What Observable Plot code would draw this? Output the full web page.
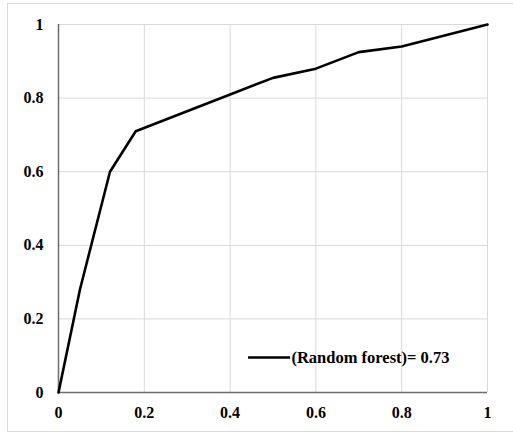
<!DOCTYPE html>
<html>
<head>
<meta charset="utf-8">
<script src="https://cdn.jsdelivr.net/npm/d3@7"></script>
<script src="https://cdn.jsdelivr.net/npm/@observablehq/plot@0.6"></script>
<style>
  html, body { margin: 0; padding: 0; background: #fff; }
  #wrap { position: relative; width: 513px; height: 433px; overflow: hidden; }
  #border { position: absolute; left: 7px; top: 3px; width: 530px; height: 427px; border: 1px solid #d9d9d9; pointer-events: none; }
</style>
</head>
<body>
<div id="wrap"><div id="border"></div></div>
<script>
const fpr = [0, 0.05, 0.12, 0.18, 0.4, 0.5, 0.6, 0.7, 0.8, 1];
const tpr = [0, 0.28, 0.6, 0.71, 0.81, 0.855, 0.88, 0.925, 0.94, 1];
const ticks = [0, 0.2, 0.4, 0.6, 0.8, 1];
const legendLabel = "(Random forest)= 0.73";

const data = fpr.map((x, i) => ({x, y: tpr[i]}));
const font = "'Liberation Serif', 'DejaVu Serif', serif";

const chart = Plot.plot({
  width: 513,
  height: 433,
  marginLeft: 58,
  marginRight: 26,
  marginTop: 24,
  marginBottom: 41,
  style: {fontFamily: font, fontSize: "16px", fontWeight: "bold", color: "#000", background: "transparent"},
  x: {domain: [0, 1], ticks: ticks, label: null},
  y: {domain: [0, 1], ticks: ticks, label: null},
  marks: [
    Plot.gridX(ticks.slice(1), {stroke: "#d9d9d9", strokeOpacity: 1, strokeWidth: 1}),
    Plot.gridY(ticks.slice(1), {stroke: "#d9d9d9", strokeOpacity: 1, strokeWidth: 1}),
    Plot.axisX({ticks: ticks, tickSize: 0, tickPadding: 14, tickFormat: d => String(d), fill: "#000", fontSize: 16}),
    Plot.axisY({ticks: ticks, tickSize: 0, tickPadding: 15, tickFormat: d => String(d), fill: "#000", fontSize: 16}),
    Plot.ruleX([0], {stroke: "#6e6e6e", strokeWidth: 1.5}),
    Plot.ruleY([0], {stroke: "#6e6e6e", strokeWidth: 1.5}),
    Plot.line(data, {x: "x", y: "y", stroke: "#000", strokeWidth: 2.6}),
    Plot.ruleY([0.095], {x1: 0.443, x2: 0.541, stroke: "#000", strokeWidth: 2.6}),
    Plot.text([legendLabel], {x: 0.543, y: 0.095, text: d => d, textAnchor: "start", fontSize: 16.5, fontWeight: "bold", fill: "#000"})
  ]
});
document.getElementById("wrap").prepend(chart);
</script>
</body>
</html>
